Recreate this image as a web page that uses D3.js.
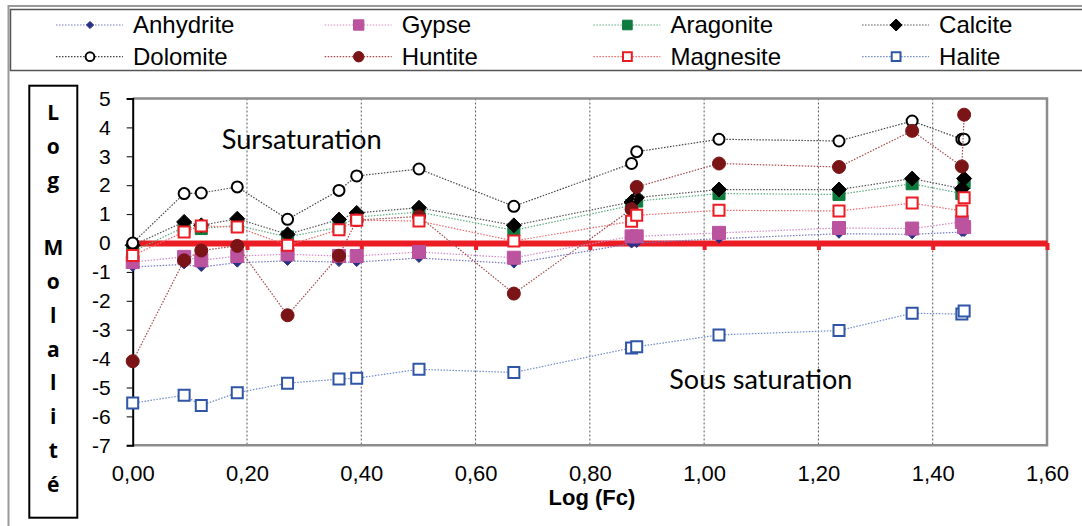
<!DOCTYPE html>
<html lang="fr">
<head>
<meta charset="UTF-8">
<title>Log Molalité vs Log (Fc)</title>
<script src="https://d3js.org/d3.v7.min.js"></script>
<style>
  body { margin: 0; background: #fff; }
  svg { display: block; font-family: "Liberation Sans", Arial, sans-serif; }
</style>
</head>
<body>
<div id="chart"></div>
<script>
// x values (Log Fc) of the samples
const logFc = [0, 0.090, 0.120, 0.183, 0.271, 0.361, 0.392, 0.501, 0.667, 0.873, 0.882, 1.026, 1.236, 1.364, 1.451, 1.455];

// log molality per mineral
const anhydrite = [-0.83, -0.74, -0.83, -0.68, -0.62, -0.66, -0.66, -0.52, -0.71, -0.02, 0.00, 0.15, 0.32, 0.30, 0.38, 0.38];
const gypse     = [-0.66, -0.48, -0.60, -0.45, -0.39, -0.45, -0.45, -0.31, -0.51, 0.23, 0.23, 0.35, 0.52, 0.50, 0.73, 0.55];
const aragonite = [-0.30, 0.55, 0.50, 0.61, 0.21, 0.55, 0.90, 1.07, 0.44, 1.30, 1.45, 1.71, 1.68, 2.05, 1.71, 2.08];
const calcite   = [-0.08, 0.73, 0.61, 0.84, 0.30, 0.81, 1.04, 1.22, 0.61, 1.42, 1.57, 1.85, 1.85, 2.23, 1.88, 2.23];
const dolomite  = [0.00, 1.71, 1.73, 1.94, 0.82, 1.82, 2.32, 2.56, 1.27, 2.75, 3.16, 3.59, 3.53, 4.22, 3.59, 3.59];
const huntite   = [-4.09, -0.60, -0.26, -0.10, -2.50, -0.44, 0.79, 0.92, -1.75, 1.17, 1.94, 2.75, 2.63, 3.88, 2.65, 4.44];
const magnesite = [-0.43, 0.38, 0.59, 0.55, -0.08, 0.46, 0.79, 0.76, 0.07, 0.75, 0.96, 1.13, 1.11, 1.38, 1.11, 1.57];
const halite    = [-5.54, -5.27, -5.62, -5.18, -4.85, -4.71, -4.68, -4.37, -4.48, -3.63, -3.59, -3.18, -3.03, -2.43, -2.46, -2.35];

const xTicks = [0, 0.2, 0.4, 0.6, 0.8, 1.0, 1.2, 1.4, 1.6];
const yTicks = [5, 4, 3, 2, 1, 0, -1, -2, -3, -4, -5, -6, -7];
const yTitle = ["L", "o", "g", "", "M", "o", "l", "a", "l", "i", "t", "é"];

const series = [
  { name: "Anhydrite", values: anhydrite, color: "#2b3087", line: "#7478c0", shape: "diamond", size: 4.5, open: false },
  { name: "Gypse",     values: gypse,     color: "#bb539f", line: "#d58cc4", shape: "square",  size: 13,  open: false },
  { name: "Aragonite", values: aragonite, color: "#0c7b3d", line: "#5eae7f", shape: "square",  size: 12,  open: false },
  { name: "Calcite",   values: calcite,   color: "#000000", line: "#555555", shape: "diamond", size: 7.5, open: false },
  { name: "Dolomite",  values: dolomite,  color: "#000000", line: "#444444", shape: "circle",  size: 5.5, open: true },
  { name: "Huntite",   values: huntite,   color: "#7a1416", line: "#a4484a", shape: "circle",  size: 6.5, open: false },
  { name: "Magnesite", values: magnesite, color: "#ec1c24", line: "#f06a6e", shape: "square",  size: 11,  open: true },
  { name: "Halite",    values: halite,    color: "#2f55a7", line: "#6f8bc8", shape: "square",  size: 11,  open: true }
];

const W = 1082, H = 526;
const svg = d3.select("#chart").append("svg").attr("width", W).attr("height", H);

// outer chart border and legend box
svg.append("rect").attr("x", 8.5).attr("y", 6).attr("width", 1090).attr("height", 530)
  .attr("fill", "none").attr("stroke", "#9a9a9a").attr("stroke-width", 2);
svg.append("rect").attr("x", 10.5).attr("y", 9.5).attr("width", 1090).attr("height", 61)
  .attr("fill", "#fff").attr("stroke", "#555").attr("stroke-width", 1.5);

const x = d3.scaleLinear().domain([0, 1.6]).range([132.7, 1047]);
const y = d3.scaleLinear().domain([-7, 5]).range([445.3, 98.5]);

function markerPath(shape, s) {
  if (shape === "square") {
    const h = s / 2;
    return `M${-h},${-h}h${s}v${s}h${-s}Z`;
  }
  if (shape === "diamond") return `M0,${-s}L${s},0L0,${s}L${-s},0Z`;
  return d3.symbol(d3.symbolCircle, Math.PI * s * s)();
}

function drawMarker(sel, d, scale) {
  sel.append("path")
    .attr("d", markerPath(d.shape, d.size * scale))
    .attr("fill", d.open ? "#fff" : d.color)
    .attr("stroke", d.color)
    .attr("stroke-width", d.open ? 2 : 1);
}

// plot area
const plot = svg.append("g");

// vertical gridlines
plot.selectAll(".grid").data(xTicks.filter(v => v > 0 && v < 1.6)).enter()
  .append("line")
  .attr("x1", d => x(d)).attr("x2", d => x(d))
  .attr("y1", y(5)).attr("y2", y(-7))
  .attr("stroke", "#5a5a5a").attr("stroke-width", 1).attr("stroke-dasharray", "2,2");

// plot border (top, right, bottom)
plot.append("path")
  .attr("d", `M${x(0)},${y(5)}H${x(1.6)}V${y(-7)}H${x(0)}`)
  .attr("fill", "none").attr("stroke", "#8c8c8c").attr("stroke-width", 2.5);

// y axis
const yAxis = plot.append("g").attr("transform", `translate(${x(0)},0)`)
  .call(d3.axisLeft(y).tickValues(yTicks).tickSize(6).tickPadding(16).tickFormat(d => String(d)));
yAxis.select(".domain").attr("stroke", "#000").attr("stroke-width", 2);
yAxis.selectAll(".tick line").attr("stroke", "#000");
yAxis.selectAll("text").attr("font-size", 21).attr("fill", "#000");

// x tick labels at the bottom
const xAxis = plot.append("g").attr("transform", `translate(0,${y(-7)})`)
  .call(d3.axisBottom(x).tickValues(xTicks).tickSize(0).tickPadding(20)
    .tickFormat(d => d3.format(".2f")(d).replace(".", ",")));
xAxis.select(".domain").remove();
xAxis.selectAll("text").attr("font-size", 22).attr("fill", "#000");

// red zero line (horizontal axis crossing at 0)
const zero = plot.append("g").attr("transform", `translate(0,${y(0)})`)
  .call(d3.axisBottom(x).tickValues(xTicks).tickSizeInner(7).tickSizeOuter(0).tickFormat(""));
zero.select(".domain").attr("stroke", "#ec1c24").attr("stroke-width", 6);
zero.selectAll(".tick line").attr("stroke", "#ec1c24").attr("stroke-width", 4);

// series
const line = d3.line().x(d => x(d[0])).y(d => y(d[1]));
series.forEach(s => {
  const pts = logFc.map((v, i) => [v, s.values[i]]);
  const g = plot.append("g");
  g.append("path").attr("d", line(pts))
    .attr("fill", "none").attr("stroke", s.line).attr("stroke-width", 1.2)
    .attr("stroke-dasharray", "1.5,1.5");
  g.selectAll(".pt").data(pts).enter().append("g")
    .attr("transform", d => `translate(${x(d[0])},${y(d[1])})`)
    .each(function() { drawMarker(d3.select(this), s, 1); });
});

// annotations
svg.append("text").attr("x", 221.7).attr("y", 149.3)
  .attr("font-family", "Lato, 'Open Sans', sans-serif").attr("font-size", 26)
  .attr("textLength", 160).attr("lengthAdjust", "spacingAndGlyphs")
  .text("Sursaturation");
svg.append("text").attr("x", 669.3).attr("y", 389)
  .attr("font-family", "Lato, 'Open Sans', sans-serif").attr("font-size", 26)
  .attr("textLength", 183).attr("lengthAdjust", "spacingAndGlyphs")
  .text("Sous saturation");

// x axis title
svg.append("text").attr("x", 592).attr("y", 505).attr("text-anchor", "middle")
  .attr("font-size", 22).attr("font-weight", "bold").text("Log (Fc)");

// y axis title box, letters stacked
svg.append("rect").attr("x", 29.3).attr("y", 85.7).attr("width", 48).attr("height", 432)
  .attr("fill", "#fff").attr("stroke", "#000").attr("stroke-width", 2);
svg.append("g").selectAll("text").data(yTitle).enter().append("text")
  .attr("x", 53.3).attr("y", (d, i) => 120 + i * 33.8)
  .attr("text-anchor", "middle")
  .attr("font-family", "'Open Sans', Lato, sans-serif")
  .attr("font-size", 21).attr("font-weight", "bold")
  .text(d => d);

// legend
const leg = svg.append("g");
series.forEach((s, i) => {
  const col = i % 4, row = Math.floor(i / 4);
  const lx = 56 + col * 268.7, ly = row === 0 ? 25 : 56.7;
  const g = leg.append("g");
  g.append("line").attr("x1", lx).attr("x2", lx + 67).attr("y1", ly).attr("y2", ly)
    .attr("stroke", s.line).attr("stroke-width", 1.2).attr("stroke-dasharray", "1.5,1.5");
  const m = g.append("g").attr("transform", `translate(${lx + 34},${ly})`);
  drawMarker(m, s, 0.8);
  g.append("text").attr("x", lx + 77).attr("y", ly + 8.3)
    .attr("font-size", 24).attr("fill", "#000").text(s.name);
});
</script>
</body>
</html>
